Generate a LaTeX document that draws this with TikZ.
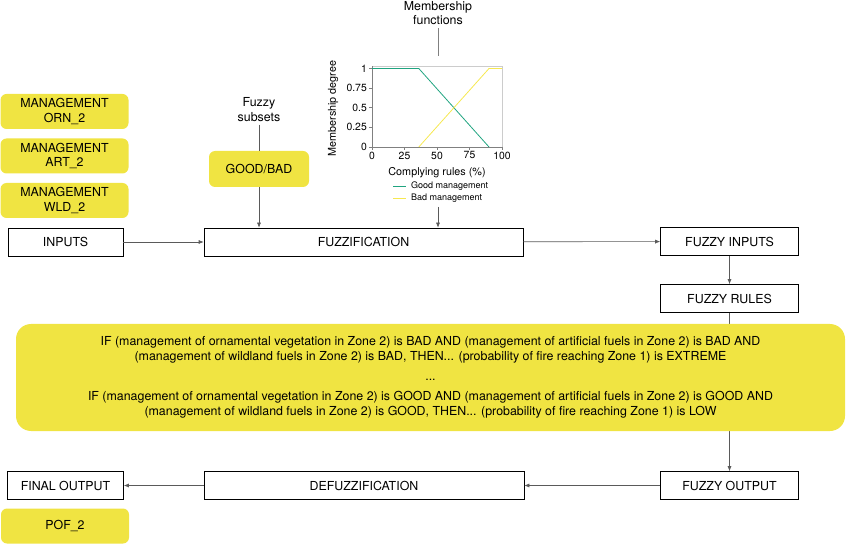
\documentclass[tikz,border=0pt]{standalone}
\usepackage{fontspec}
\setmainfont{TeX Gyre Heros}
\usetikzlibrary{arrows.meta}

\definecolor{ylw}{RGB}{240,228,66}
\definecolor{goodcol}{RGB}{32,164,128}
\definecolor{badcol}{RGB}{246,232,80}
\definecolor{conncol}{RGB}{90,90,90}

\begin{document}
\begin{tikzpicture}[x = 1pt, y = -1pt,
								box/.style = {rectangle, draw, fill = 
								white, line width = 0.6pt, minimum height = 28pt,
								inner sep = 0pt, font = \fontsize{12.4}{14}\selectfont},
								ybox/.style = {rectangle, rounded corners = 6pt, fill =
								ylw, inner sep = 0pt, align = center, minimum height = 35pt,
								font = \fontsize{12.4}{14.5}\selectfont},
								lbl/.style = {align = center, inner sep = 3pt,
								font = \fontsize{12.4}{14.5}\selectfont},
								tick/.style = {font = \fontsize{10.4}{12}\selectfont, inner sep = 1.5pt},
								axlbl/.style = {font = \fontsize{10.8}{12}\selectfont, inner sep = 0pt},
								leg/.style = {font = \fontsize{9}{10}\selectfont, inner sep = 0pt,
								anchor = west},
								conn/.style = {draw = conncol, line width = 0.6pt},
								arr/.style = {conn, -{Latex[length = 5pt, width = 4pt]}},
								]
				\useasboundingbox (0,0) rectangle (846,545);

				% inputs
				\node [ybox, minimum width = 128pt] (orn) at (64.5,111.5) {MANAGEMENT\\ORN\_2};
				\node [ybox, minimum width = 128pt] (art) at (64.5,156) {MANAGEMENT\\ART\_2};
				\node [ybox, minimum width = 128pt] (wld) at (64.5,200.5) {MANAGEMENT\\WLD\_2};
				\node [box, minimum width = 115pt] (inputs) at (65.5,242) {INPUTS};

				% fuzzification
				\node [lbl] (subsets) at (259,109.5) {Fuzzy\\subsets};
				\node [ybox, minimum width = 100pt, minimum height = 36pt] (goodbad) at (259,169) {GOOD/BAD};
				\node [box, minimum width = 319pt] (fuzz) at (363.5,242) {FUZZIFICATION};
				\node [lbl] (membfun) at (438,13) {Membership\\functions};
				\coordinate (charttop) at (438,56);
				\coordinate (chartbot) at (438,207);

				% membership chart
				\begin{scope}[shift = {(372,147)}, x = 1.3pt, y = 78.5pt]
					\draw [gray!40, line width = 0.5pt] (0,0) rectangle (100,1.03);
					\draw [gray, line width = 0.6pt] (0,1.03) -- (0,0) -- (100,0);
					\foreach \v in {0,0.25,0.5,0.75,1}
					{
						\draw [gray, line width = 0.6pt] (0,\v) -- ++(-3pt,0);
						\node [tick, anchor = east] at (-3.5pt,\v) {\v};
					}
					\foreach \u in {0,25,50,75,100}
					{
						\draw [gray, line width = 0.6pt] (\u,0) -- ++(0,-3pt);
						\node [tick, anchor = north] at (\u,-3pt) {\u};
					}
					\draw [goodcol, line width = 0.8pt] (0,1) -- (36,1) -- (90,0);
					\draw [badcol, line width = 0.8pt] (36,0) -- (90,1) -- (100,1);
					\node [axlbl, rotate = 90] at (-30,0.49) {Membership degree};
					\node [axlbl] at (50,-0.33) {Complying rules (\%)};
				\end{scope}
				\draw [goodcol, line width = 0.8pt] (393,186) -- (406,186);
				\draw [badcol, line width = 0.8pt] (393,198) -- (406,198);
				\node [leg] (lgood) at (411,186) {Good management};
				\node [leg] (lbad) at (411,198) {Bad management};

				% rules
				\node [box, minimum width = 138pt] (fin) at (729.5,241.5) {FUZZY INPUTS};
				\node [box, minimum width = 138pt] (rules) at (729.5,298.5) {FUZZY RULES};
				\node [box, minimum width = 138pt] (fout) at (729.5,485.5) {FUZZY OUTPUT};
				\draw [arr] (rules) -- (fout);
				\node [rectangle, rounded corners = 15pt, fill = ylw, minimum width = 829pt,
				minimum height = 107pt, inner sep = 0pt, align = center,
				font = \fontsize{12.4}{14.5}\selectfont] (rulebox) at (430.5,377.5)
				{IF (management of ornamental vegetation in Zone 2) is BAD AND (management of artificial fuels in Zone 2) is BAD AND\\
				(management of wildland fuels in Zone 2) is BAD, THEN... (probability of fire reaching Zone 1) is EXTREME\\[5.5pt]
				...\\[6pt]
				IF (management of ornamental vegetation in Zone 2) is GOOD AND (management of artificial fuels in Zone 2) is GOOD AND\\
				(management of wildland fuels in Zone 2) is GOOD, THEN... (probability of fire reaching Zone 1) is LOW};

				% output
				\node [box, minimum width = 320pt] (defuzz) at (364,485.5) {DEFUZZIFICATION};
				\node [box, minimum width = 116pt] (final) at (65.5,485.5) {FINAL OUTPUT};
				\node [ybox, minimum width = 128pt] (pof) at (65,526) {POF\_2};

				% connectors
				\draw [arr] (inputs) -- (fuzz);
				\draw [conn] (subsets) -- (goodbad);
				\draw [arr] (goodbad) -- (goodbad |- fuzz.north);
				\draw [conn, draw = gray] (membfun) -- (charttop);
				\draw [arr] (chartbot) -- (chartbot |- fuzz.north);
				\draw [arr] (fuzz) -- (fin);
				\draw [arr] (fin) -- (rules);
				\draw [arr] (fout) -- (defuzz);
				\draw [arr] (defuzz) -- (final);
			\end{tikzpicture}
\end{document}
